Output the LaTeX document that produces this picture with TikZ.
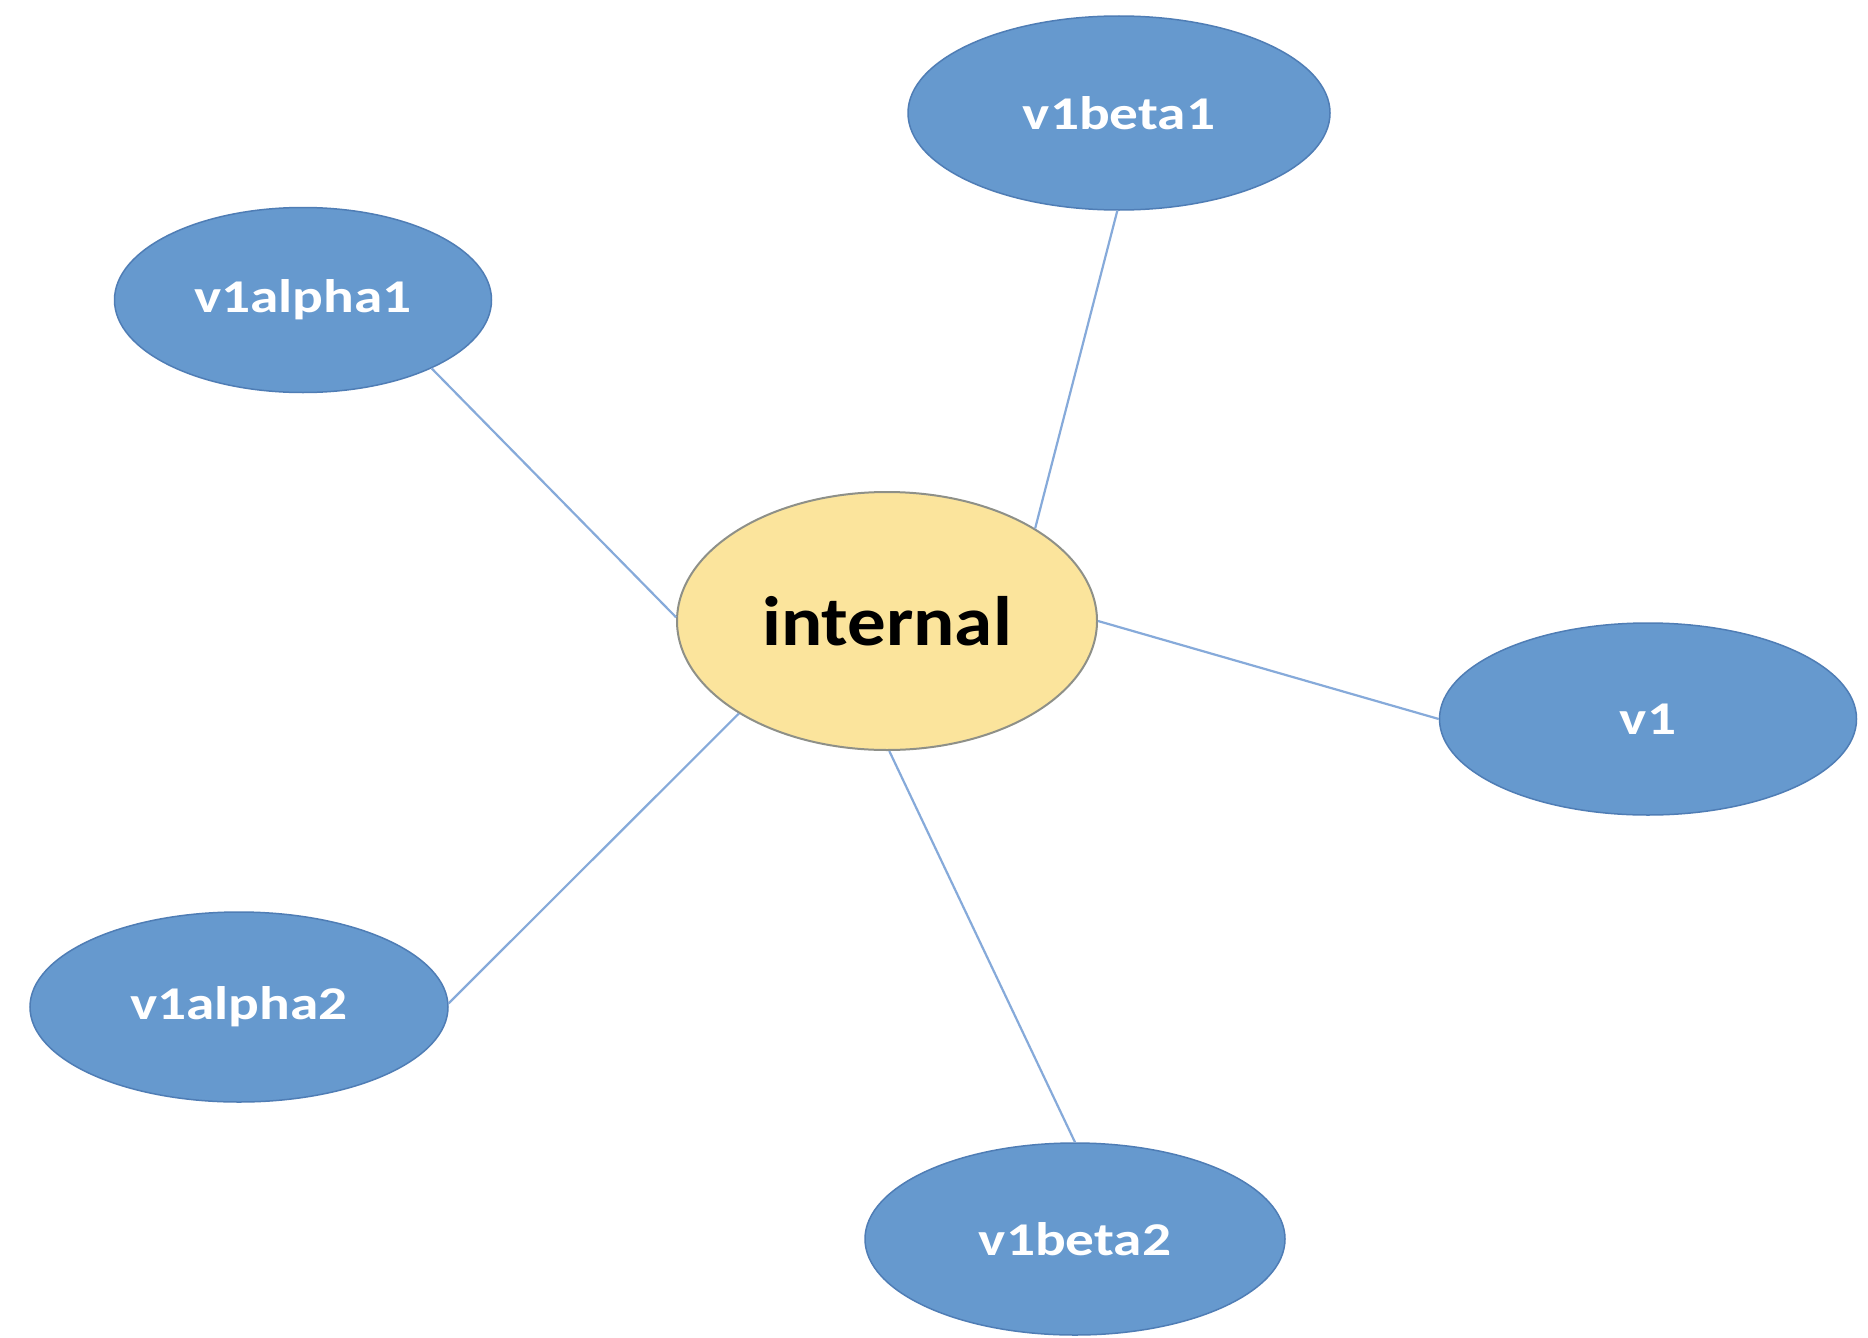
\documentclass[tikz,border=0pt]{standalone}
\usepackage{fontspec}
\setmainfont{Carlito}
\usetikzlibrary{shapes.geometric}
\definecolor{bfill}{HTML}{6699CE}
\definecolor{bdraw}{HTML}{4F7DB5}
\definecolor{yfill}{HTML}{FBE49C}
\definecolor{ydraw}{HTML}{8E9088}
\definecolor{link}{HTML}{86AADA}
\newcommand{\blab}[1]{\scalebox{1.22}[1]{#1}}
\begin{document}
\begin{tikzpicture}[x=1pt,y=1pt,
  bnode/.style={ellipse, fill=bfill, draw=bdraw, line width=1.5pt, inner sep=0pt,
    text=white, font=\fontsize{47}{56}\selectfont\bfseries},
  ynode/.style={ellipse, fill=yfill, draw=ydraw, line width=2pt, inner sep=0pt,
    text=black, font=\fontsize{70}{82}\selectfont\bfseries},
  conn/.style={draw=link, line width=2.2pt}]
\useasboundingbox[fill=white] (0,0) rectangle (1868,-1338);
\node[ynode, minimum width=420pt, minimum height=258pt] (internal) at (887,-621) {\scalebox{1.1}[1]{internal}};
\node[bnode, minimum width=422pt, minimum height=194pt] (v1beta1) at (1119,-113) {\blab{v1beta1}};
\node[bnode, minimum width=377pt, minimum height=185pt] (v1alpha1) at (303,-300) {\blab{v1alpha1}};
\node[bnode, minimum width=417pt, minimum height=192pt] (v1) at (1648,-719) {\blab{v1}};
\node[bnode, minimum width=418pt, minimum height=190pt] (v1alpha2) at (239,-1007) {\blab{v1alpha2}};
\node[bnode, minimum width=420pt, minimum height=192pt] (v1beta2) at (1075,-1239) {\blab{v1beta2}};
\draw[conn] (internal.32.5) -- (v1beta1.-91);
\draw[conn] (internal.179.5) -- (v1alpha1.-28);
\draw[conn] (internal.-0.8) -- (v1.180);
\draw[conn] (internal.212.5) -- (v1alpha2.1);
\draw[conn] (internal.-89) -- (v1beta2.90);
\end{tikzpicture}
\end{document}
